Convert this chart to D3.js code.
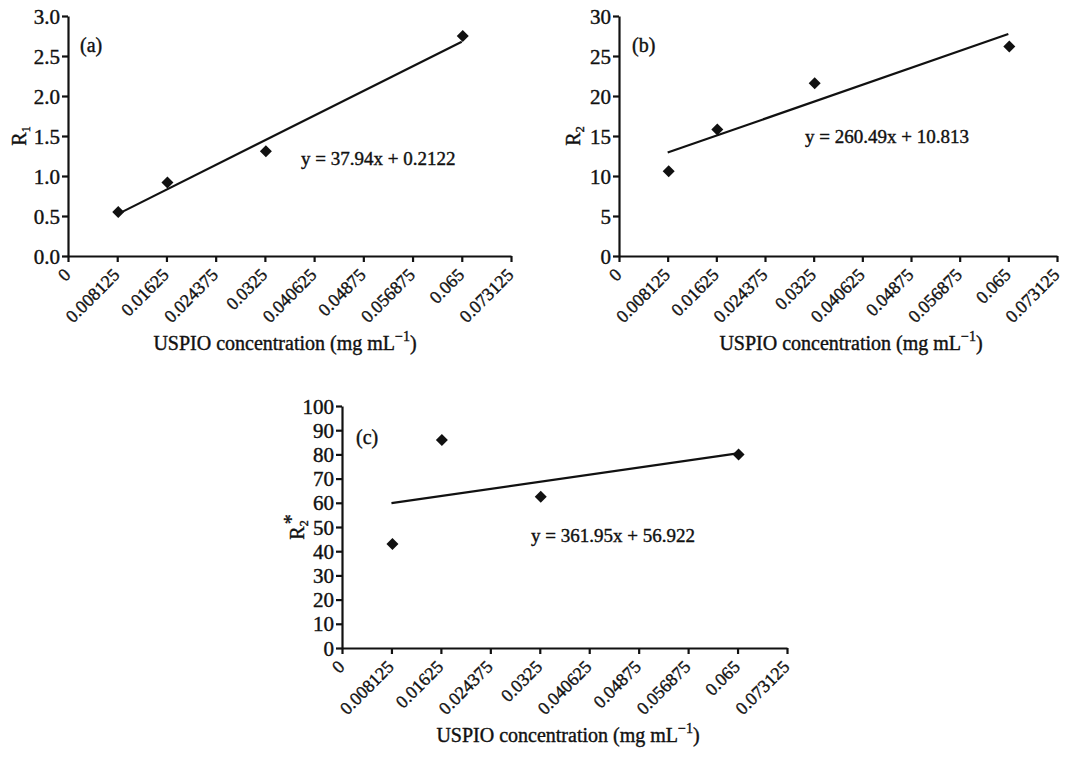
<!DOCTYPE html>
<html lang="en">
<head>
  <meta charset="UTF-8">
  <title>USPIO relaxation rates</title>
  <style>
    body { margin: 0; background: #fff; }
    text { font-family: "Liberation Serif", "Times New Roman", serif; fill: #111; stroke: #111; stroke-width: 0.4px; }
  </style>
</head>
<body>
  <script src="https://d3js.org/d3.v7.min.js"></script>
  <script>
    // x axis tick labels (mg/mL)
    const xTickLabels = ['0', '0.008125', '0.01625', '0.024375', '0.0325', '0.040625', '0.04875', '0.056875', '0.065', '0.073125']
    const xTicks = xTickLabels.map(Number)

    // measured concentrations
    const conc = [0.008125, 0.01625, 0.0325, 0.065]

    // values
    const r1 = [0.55, 0.92, 1.31, 2.75]
    const r2 = [10.6, 15.8, 21.6, 26.2]
    const r2star = [43, 86, 62.5, 80]

    // fitted lines: slope, intercept
    const fitA = [37.94, 0.2122]
    const fitB = [260.49, 10.813]
    const fitC = [361.95, 56.922]

    const ticksA = [0, 0.5, 1.0, 1.5, 2.0, 2.5, 3.0]
    const ticksB = [0, 5, 10, 15, 20, 25, 30]
    const ticksC = [0, 10, 20, 30, 40, 50, 60, 70, 80, 90, 100]

    const svg = d3.select('body')
      .append('svg')
      .attr('width', 1067)
      .attr('height', 766)

    function panel(o) {
      const g = svg.append('g')

      const x = d3.scaleLinear().domain([0, 0.073125]).range([o.left, o.right])
      const y = d3.scaleLinear().domain([0, o.yMax]).range([o.bottom, o.top])

      const xAxis = g.append('g')
        .attr('transform', `translate(0,${o.bottom})`)
        .call(d3.axisBottom(x).tickValues(xTicks).tickFormat((d, i) => xTickLabels[i]).tickSize(6).tickSizeOuter(0))
      xAxis.selectAll('text')
        .attr('font-size', 18)
        .attr('text-anchor', 'end')
        .attr('dy', 0)
        .attr('y', 0)
        .attr('transform', 'translate(3,20) rotate(-45)')

      const yAxis = g.append('g')
        .attr('transform', `translate(${o.left},0)`)
        .call(d3.axisLeft(y).tickValues(o.yTicks).tickFormat(o.fmt).tickSize(6).tickSizeOuter(0))
      yAxis.selectAll('text').attr('font-size', 21).attr('dx', 1).attr('dy', '0.34em')

      g.selectAll('.domain').attr('stroke', '#111').attr('stroke-width', 2.2)
      g.selectAll('.tick line').attr('stroke', '#111').attr('stroke-width', 2.2)

      // trend line
      const x0 = conc[0], x1 = conc[conc.length - 1]
      g.append('line')
        .attr('x1', x(x0)).attr('y1', y(o.fit[0] * x0 + o.fit[1]))
        .attr('x2', x(x1)).attr('y2', y(o.fit[0] * x1 + o.fit[1]))
        .attr('stroke', '#111')
        .attr('stroke-width', 2.2)

      // diamond markers
      g.selectAll('.pt')
        .data(conc.map((c, i) => [c, o.values[i]]))
        .enter()
        .append('path')
        .attr('d', d3.symbol().type(d3.symbolSquare).size(72))
        .attr('transform', d => `translate(${x(d[0]) + 1},${y(d[1])}) rotate(45)`)
        .attr('fill', '#111')

      // panel letter
      g.append('text')
        .attr('x', o.tagPos[0]).attr('y', o.tagPos[1])
        .attr('font-size', 20)
        .text(o.tag)

      // equation
      g.append('text')
        .attr('x', o.eq[0]).attr('y', o.eq[1])
        .attr('font-size', 19)
        .text(`y = ${o.fit[0]}x + ${o.fit[1]}`)

      // x title
      const xt = g.append('text')
        .attr('x', o.titleX)
        .attr('y', o.titleY)
        .attr('text-anchor', 'middle')
        .attr('font-size', 20)
      xt.append('tspan').text('USPIO concentration (mg mL')
      xt.append('tspan').attr('dy', -9).attr('font-size', 14).text('\u22121')
      xt.append('tspan').attr('dy', 9).text(')')

      // y title
      const yt = g.append('text')
        .attr('transform', `translate(${o.yLabelX},${(o.top + o.bottom) / 2}) rotate(-90)`)
        .attr('text-anchor', 'middle')
        .attr('font-size', 20)
      yt.append('tspan').text('R')
      yt.append('tspan').attr('dy', 4).attr('font-size', 12).text(o.sub)
      if (o.star) yt.append('tspan').attr('dx', -4).attr('dy', -10).attr('font-size', 20).text('*')
    }

    panel({ left: 68, right: 511, top: 16, bottom: 256, yMax: 3, yTicks: ticksA, fmt: d3.format('.1f'),
      values: r1, fit: fitA, tag: '(a)', tagPos: [80, 52], eq: [301, 165], sub: '1',
      titleX: 285, titleY: 350, yLabelX: 26 })
    panel({ left: 619, right: 1057, top: 16, bottom: 256, yMax: 30, yTicks: ticksB, fmt: d3.format('d'),
      values: r2, fit: fitB, tag: '(b)', tagPos: [632, 52], eq: [805, 143], sub: '2',
      titleX: 851, titleY: 350, yLabelX: 580 })
    panel({ left: 342, right: 787, top: 406, bottom: 648, yMax: 100, yTicks: ticksC, fmt: d3.format('d'),
      values: r2star, fit: fitC, tag: '(c)', tagPos: [356, 444], eq: [531, 542], sub: '2', star: true,
      titleX: 568, titleY: 742, yLabelX: 304 })
  </script>
</body>
</html>
